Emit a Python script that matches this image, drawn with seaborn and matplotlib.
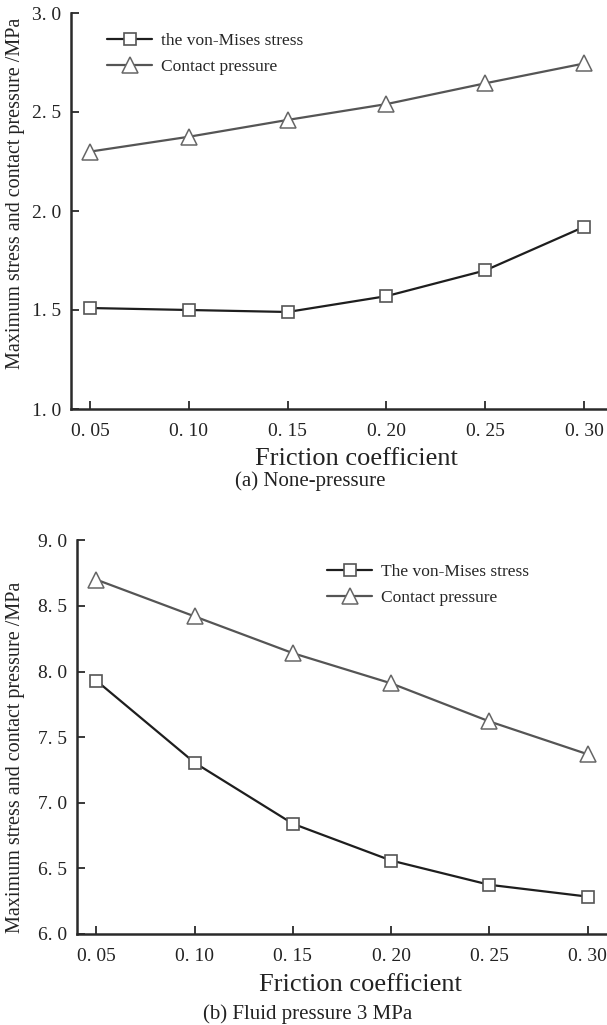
import matplotlib
matplotlib.use("Agg")
import matplotlib.pyplot as plt
import seaborn as sns
import pandas as pd
import numpy as np

# Friction coefficients and results for both loading cases
friction = [0.05, 0.10, 0.15, 0.20, 0.25, 0.30]
friction_labels = ["0. 05", "0. 10", "0. 15", "0. 20", "0. 25", "0. 30"]

# (a) no fluid pressure
mises_a = [1.51, 1.50, 1.49, 1.57, 1.70, 1.92]
contact_a = [2.30, 2.375, 2.46, 2.54, 2.645, 2.745]
yticks_a = [1.0, 1.5, 2.0, 2.5, 3.0]
ytick_labels_a = ["1. 0", "1. 5", "2. 0", "2. 5", "3. 0"]

# (b) fluid pressure 3 MPa
mises_b = [7.93, 7.305, 6.84, 6.56, 6.375, 6.285]
contact_b = [8.70, 8.42, 8.14, 7.91, 7.62, 7.37]
yticks_b = [6.0, 6.5, 7.0, 7.5, 8.0, 8.5, 9.0]
ytick_labels_b = ["6. 0", "6. 5", "7. 0", "7. 5", "8. 0", "8. 5", "9. 0"]

sns.set_style("ticks")
plt.rcParams["font.family"] = ["Liberation Serif", "DejaVu Serif"]

W, H = 607, 1025
fig = plt.figure(figsize=(W / 100, H / 100), dpi=100)


def px_axes(left, right, top, bottom):
    return fig.add_axes([left / W, 1 - bottom / H, (right - left) / W, (bottom - top) / H])


ax_a = px_axes(70.7, 607, 13, 409)
ax_b = px_axes(77, 607, 540.3, 934)

mises_style = dict(color="#1e1e1e", linewidth=1.6, marker="s", markersize=8.5,
                   markerfacecolor="white", markeredgecolor="#555555",
                   markeredgewidth=1.2)
contact_style = dict(color="#555555", linewidth=1.6, marker="^", markersize=11.5,
                     markerfacecolor="white", markeredgecolor="#666666",
                     markeredgewidth=1.1)


def draw_panel(ax, mises, contact, mises_label, yticks, ylabels, xlim, legend_xy):
    df = pd.DataFrame({"friction": friction, "mises": mises, "contact": contact})
    sns.lineplot(data=df, x="friction", y="contact", ax=ax, label="Contact pressure",
                 **contact_style)
    sns.lineplot(data=df, x="friction", y="mises", ax=ax, label=mises_label,
                 **mises_style)
    ax.set_xlim(*xlim)
    ax.set_ylim(yticks[0], yticks[-1])
    ax.set_xticks(friction)
    ax.set_xticklabels(friction_labels)
    ax.set_yticks(yticks)
    ax.set_yticklabels(ylabels)
    ax.set_xlabel("")
    ax.set_ylabel("")
    sns.despine(ax=ax)
    for s in ("left", "bottom"):
        ax.spines[s].set_linewidth(1.8)
        ax.spines[s].set_color("#2a2a2a")
    ax.tick_params(axis="both", direction="in", length=5.5, width=1.3,
                   color="#2a2a2a", labelsize=14, labelcolor="#222222")
    ax.tick_params(axis="x", pad=10)
    ax.tick_params(axis="y", pad=7)
    handles, labels = ax.get_legend_handles_labels()
    order = [1, 0]
    ax.legend([handles[i] for i in order], [labels[i] for i in order],
              loc="center left", bbox_to_anchor=(legend_xy[0] / W, 1 - legend_xy[1] / H),
              bbox_transform=fig.transFigure, frameon=False, fontsize=12.5,
              handlelength=2.6, handletextpad=0.5, labelspacing=0.55,
              borderpad=0, borderaxespad=0, numpoints=1)


draw_panel(ax_a, mises_a, contact_a, "the von-Mises stress", yticks_a, ytick_labels_a,
           (0.0402, 0.3116), (107, 54))
draw_panel(ax_b, mises_b, contact_b, "The von-Mises stress", yticks_b, ytick_labels_b,
           (0.0401, 0.3099), (327, 585))

ylabel = "Maximum stress and contact pressure /MPa"
fig.text(16 / W, 1 - 193 / H, ylabel, rotation=90, ha="center", va="center",
         fontsize=14.5, color="#222222")
fig.text(16 / W, 1 - 757 / H, ylabel, rotation=90, ha="center", va="center",
         fontsize=14.5, color="#222222")

fig.text(356 / W, 1 - 459 / H, "Friction coefficient", ha="center", va="center",
         fontsize=19, color="#222222")
fig.text(360 / W, 1 - 985 / H, "Friction coefficient", ha="center", va="center",
         fontsize=19, color="#222222")

fig.text(310 / W, 1 - 481 / H, "(a) None-pressure", ha="center", va="center",
         fontsize=15, color="#222222")
fig.text(308 / W, 1 - 1014 / H, "(b) Fluid pressure 3 MPa", ha="center", va="center",
         fontsize=15, color="#222222")

fig.savefig("out.png", dpi=100)
